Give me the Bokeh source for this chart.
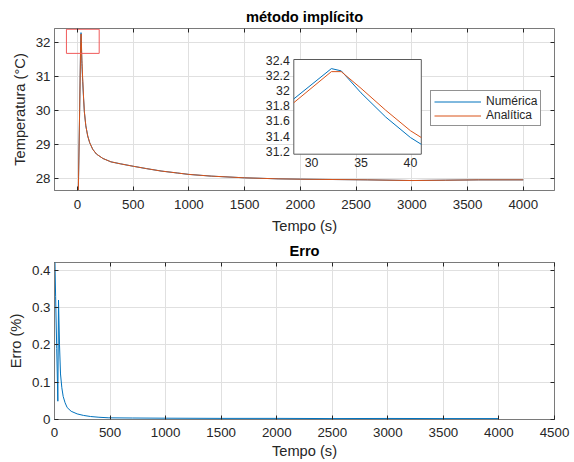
import numpy as np
from bokeh.plotting import figure
from bokeh.layouts import column
from bokeh.models import Range1d, FixedTicker, LinearAxis, Legend, LegendItem
from bokeh.core.properties import value
from bokeh.embed import file_html
from bokeh.resources import INLINE

FONT = "Liberation Sans"
BLUE = "#0072BD"
ORANGE = "#D95319"
TXT = "#262626"

# ---------------- data ----------------
tempo = [0, 10, 20, 28.2, 32, 33, 35, 37.5, 40, 41.1, 47, 55, 62, 75, 92, 110, 137, 170,
         228, 300, 388, 500, 620, 750, 900, 1000, 1200, 1500, 1800, 2000, 2300, 2600,
         3000, 3300, 3600, 4000]
temp_numerica = [26.0, 28.05, 30.1, 31.89, 32.29, 32.26, 31.97, 31.65, 31.38, 31.29, 30.85,
                 30.35, 29.96, 29.55, 29.25, 29.05, 28.86, 28.72, 28.59, 28.49, 28.43, 28.36,
                 28.29, 28.22, 28.16, 28.12, 28.07, 28.02, 27.99, 27.98, 27.97, 27.96, 27.94,
                 27.95, 27.96, 27.96]
temp_analitica = [26.0, 28.05, 30.1, 31.84, 32.25, 32.25, 32.03, 31.74, 31.47, 31.38, 30.93,
                  30.37, 29.96, 29.55, 29.25, 29.05, 28.86, 28.72, 28.59, 28.49, 28.43, 28.36,
                  28.29, 28.22, 28.16, 28.12, 28.07, 28.02, 27.99, 27.98, 27.97, 27.96, 27.94,
                  27.95, 27.96, 27.96]

tempo_erro = [0, 1, 4, 10, 20, 30, 36, 45, 54, 66, 78, 95, 114, 150, 204, 260, 324, 400, 489,
              700, 1000, 1500, 2000, 2500, 3000, 3500, 4000]
erro = [0.0, 0.6, 0.42, 0.33, 0.19, 0.049, 0.32, 0.2, 0.122, 0.085, 0.062, 0.045, 0.032,
        0.022, 0.015, 0.011, 0.008, 0.006, 0.0045, 0.004, 0.0035, 0.003, 0.003, 0.0025,
        0.0028, 0.0025, 0.0025]

temp_xticks = [0, 500, 1000, 1500, 2000, 2500, 3000, 3500, 4000]
temp_yticks = [28, 29, 30, 31, 32]
zoom_xticks = [30, 35, 40]
zoom_xtick_labels = ["30", "35", "40"]
zoom_yticks = [31.2, 31.4, 31.6, 31.8, 32.0, 32.2, 32.4]
zoom_ytick_labels = ["31.2", "31.4", "31.6", "31.8", "32", "32.2", "32.4"]
erro_xticks = [0, 500, 1000, 1500, 2000, 2500, 3000, 3500, 4000, 4500]
erro_yticks = [0, 0.1, 0.2, 0.3, 0.4]
erro_ytick_labels = ["0", "0.1", "0.2", "0.3", "0.4"]

zoom_window_t = [28.2, 41.1]
zoom_window_T = [31.16, 32.41]
zoom_box = [-99, 195, 31.68, 32.39]       # left, right, bottom, top
legend_labels = ["Numérica", "Analítica"]


def style(p, xticks, yticks, xlabel, ylabel, ylabels=None):
    p.background_fill_color = "white"
    p.border_fill_color = "white"
    p.outline_line_color = "#7a7a7a"
    p.outline_line_width = 1
    p.xgrid.ticker = FixedTicker(ticks=xticks)
    p.ygrid.ticker = FixedTicker(ticks=yticks)
    for g in (p.xgrid[0], p.ygrid[0]):
        g.grid_line_color = "#e0e0e0"
        g.grid_line_width = 1
    xa, ya = p.xaxis[0], p.yaxis[0]
    xa.ticker = FixedTicker(ticks=xticks)
    ya.ticker = FixedTicker(ticks=yticks)
    xa.axis_label = xlabel
    ya.axis_label = ylabel
    if ylabels is not None:
        ya.major_label_overrides = {t: s for t, s in zip(yticks, ylabels)}
    for ax in (xa, ya):
        ax.axis_line_color = "#7a7a7a"
        ax.major_tick_in = 4
        ax.major_tick_out = 0
        ax.major_tick_line_color = TXT
        ax.minor_tick_line_color = None
        ax.major_label_text_font = FONT
        ax.major_label_text_font_size = "13.33px"
        ax.major_label_text_color = TXT
        ax.axis_label_text_font = FONT
        ax.axis_label_text_font_size = "14.67px"
        ax.axis_label_text_font_style = "normal"
        ax.axis_label_text_color = TXT
    ya.major_label_standoff = 4
    ya.axis_label_standoff = 5
    for loc, tk in (("above", xticks), ("right", yticks)):
        ax = LinearAxis(ticker=FixedTicker(ticks=tk), major_label_text_font_size="0px",
                        major_label_text_alpha=0, major_label_standoff=0,
                        major_tick_in=4, major_tick_out=0,
                        major_tick_line_color=TXT, minor_tick_line_color=None,
                        axis_line_color=None)
        p.add_layout(ax, loc)
    p.title.align = "center"
    p.title.text_font = FONT
    p.title.text_font_size = "14.67px"
    p.title.text_font_style = "bold"
    p.title.text_color = "black"
    return xa, ya


# ---------------- top: temperature ----------------
p1 = figure(width=574, height=236, x_range=Range1d(-206, 4280), y_range=Range1d(27.647, 32.412),
            output_backend="svg", toolbar_location=None, title="método implícito",
            min_border_left=54, min_border_right=20, min_border_top=28, min_border_bottom=46)
xa1, ya1 = style(p1, temp_xticks, temp_yticks, "Tempo (s)", "Temperatura (°C)")
p1.title.standoff = 7
xa1.major_label_standoff = 9
xa1.axis_label_standoff = 6

r_num = p1.line(tempo, temp_numerica, line_color=BLUE, line_width=1)
r_ana = p1.line(tempo, temp_analitica, line_color=ORANGE, line_width=1)

p1.quad(left=[zoom_box[0]], right=[zoom_box[1]], bottom=[zoom_box[2]], top=[zoom_box[3]],
        fill_color=None, line_color="#f05a5a", line_width=1)

# inset (zoom of the peak)
sub = p1.subplot(x_source=Range1d(*zoom_window_t), y_source=Range1d(*zoom_window_T),
                 x_target=Range1d(1941, 3085), y_target=Range1d(28.715, 31.5))
sub.quad(left=[zoom_window_t[0]], right=[zoom_window_t[1]], bottom=[zoom_window_T[0]],
         top=[zoom_window_T[1]], fill_color="white", line_color="#5a5a5a", line_width=1)
t_arr = np.array(tempo)
mask = (t_arr >= zoom_window_t[0]) & (t_arr <= zoom_window_t[1])
sub.line(t_arr[mask], np.array(temp_numerica)[mask], line_color=BLUE, line_width=1)
sub.line(t_arr[mask], np.array(temp_analitica)[mask], line_color=ORANGE, line_width=1)
sub.text(x=zoom_xticks, y=[zoom_window_T[0]] * len(zoom_xticks), text=zoom_xtick_labels,
         y_offset=4, text_align="center", text_baseline="top", text_font=value(FONT),
         text_font_size="12.3px", text_color=TXT)
sub.text(x=[zoom_window_t[0]] * len(zoom_yticks), y=zoom_yticks, text=zoom_ytick_labels,
         x_offset=-4, text_align="right", text_baseline="middle", text_font=value(FONT),
         text_font_size="12.3px", text_color=TXT)

legend = Legend(items=[LegendItem(label=legend_labels[0], renderers=[r_num]),
                       LegendItem(label=legend_labels[1], renderers=[r_ana])],
                location=(376, 64), padding=3, spacing=0, margin=0,
                glyph_width=47, glyph_height=13, label_height=12, label_standoff=5,
                label_text_font=FONT, label_text_font_size="12px", label_text_color=TXT,
                border_line_color=TXT, border_line_width=1, background_fill_alpha=1)
p1.add_layout(legend)

# ---------------- bottom: error ----------------
p2 = figure(width=574, height=226, x_range=Range1d(0, 4500), y_range=Range1d(0, 0.4206),
            output_backend="svg", toolbar_location=None, title="Erro",
            min_border_left=54, min_border_right=20, min_border_top=20, min_border_bottom=43)
xa2, ya2 = style(p2, erro_xticks, erro_yticks, "Tempo (s)", "Erro (%)", erro_ytick_labels)
p2.title.standoff = 8
xa2.major_label_standoff = 8
xa2.axis_label_standoff = 3
p2.line(tempo_erro, erro, line_color=BLUE, line_width=1)

layout = column(p1, p2)
open("out.html", "w").write(file_html(layout, INLINE))
